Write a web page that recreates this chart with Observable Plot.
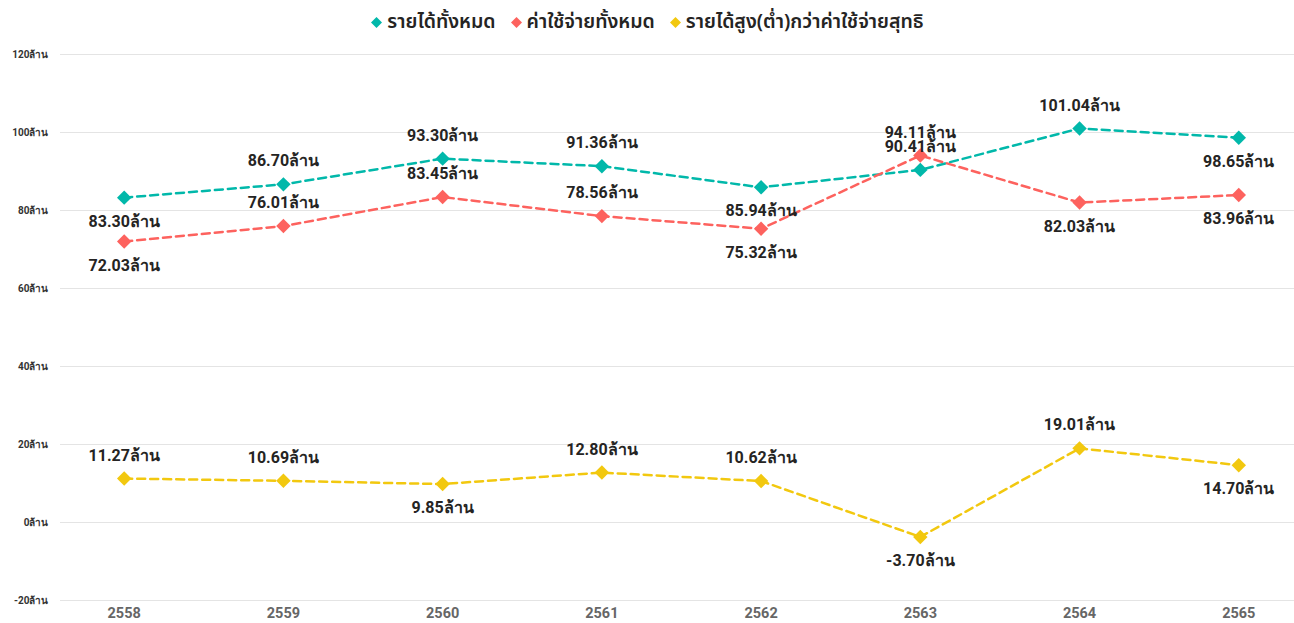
<!DOCTYPE html>
<html><head><meta charset="utf-8">
<script src="https://cdn.jsdelivr.net/npm/d3@7"></script>
<script src="https://cdn.jsdelivr.net/npm/@observablehq/plot@0.6"></script>
<style>
body{margin:0;background:#fff;font-family:"Noto Sans","Noto Sans Thai",Roboto,sans-serif;}
#legend{height:42px;display:flex;justify-content:center;align-items:center;gap:14px;font-size:19.5px;font-weight:600;color:#252423;padding-top:2px;box-sizing:border-box;}
#legend .item{display:flex;align-items:center;gap:4px;}
#legend svg{display:block}
</style>
</head><body>
<div id="legend"></div>
<div id="chart"></div>
<script>
const years = [2558, 2559, 2560, 2561, 2562, 2563, 2564, 2565];
const seriesNames = ["รายได้ทั้งหมด", "ค่าใช้จ่ายทั้งหมด", "รายได้สูง(ต่ำ)กว่าค่าใช้จ่ายสุทธิ"];
const income  = [83.30, 86.70, 93.30, 91.36, 85.94, 90.41, 101.04, 98.65];
const expense = [72.03, 76.01, 83.45, 78.56, 75.32, 94.11, 82.03, 83.96];
const net     = [11.27, 10.69, 9.85, 12.80, 10.62, -3.70, 19.01, 14.70];
const incomeLabelSide  = ["below","above","above","above","below","above","above","below"];
const expenseLabelSide = ["below","above","above","above","below","above","below","below"];
const netLabelSide     = ["above","above","below","above","above","below","above","below"];
const seriesColors = ["#01B8AA", "#FD625E", "#F2C80F"];
const yTicks = [-20, 0, 20, 40, 60, 80, 100, 120];
const unit = "ล้าน";

const seriesValues = [income, expense, net];
const seriesSides = [incomeLabelSide, expenseLabelSide, netLabelSide];
const rows = [];
seriesNames.forEach((name, i) => {
  years.forEach((yr, j) => rows.push({year: yr, value: seriesValues[i][j], series: name, side: seriesSides[i][j]}));
});

// legend
const legend = document.getElementById("legend");
seriesNames.forEach((name, i) => {
  const it = document.createElement("div");
  it.className = "item";
  it.innerHTML = `<svg width="13" height="13" viewBox="-6.5 -6.5 13 13"><path d="M0,-5.5L5.5,0L0,5.5L-5.5,0Z" fill="${seriesColors[i]}"/></svg><span>${name}</span>`;
  legend.appendChild(it);
});

const labelFont = "\"Liberation Sans Narrow\", Roboto, \"Noto Sans\", sans-serif";
const fmt = d => d.value.toFixed(2) + unit;

const chart = Plot.plot({
  width: 1294,
  height: 581,
  marginLeft: 60,
  marginRight: 0,
  marginTop: 12,
  marginBottom: 23,
  style: {fontFamily: "Roboto, \"Noto Sans\", sans-serif", background: "transparent"},
  x: {type: "linear", domain: [2557.6, 2565.35]},
  y: {domain: [-20, 120]},
  color: {domain: seriesNames, range: seriesColors},
  marks: [
    Plot.ruleY(yTicks, {stroke: "#e4e4e4", strokeWidth: 1}),
    Plot.axisY({ticks: yTicks, tickSize: 0, tickPadding: 12, tickFormat: d => d + unit, fontSize: 10, fontWeight: "bold", fill: "#333", label: null}),
    Plot.axisX({ticks: years, tickSize: 0, tickPadding: 7, tickFormat: d => String(d), fontSize: 14.5, fontWeight: "bold", fill: "#666", label: null}),
    Plot.line(rows, {x: "year", y: "value", z: "series", stroke: "series", strokeWidth: 2.5, strokeDasharray: "8,5"}),
    Plot.dot(rows, {x: "year", y: "value", fill: "series", symbol: "diamond2", r: 6.5}),
    Plot.text(rows.filter(d => d.side === "above"), {x: "year", y: "value", text: fmt, dy: -23, fontSize: 16, fontWeight: "bold", fill: "#252423", fontFamily: labelFont}),
    Plot.text(rows.filter(d => d.side === "below"), {x: "year", y: "value", text: fmt, dy: 24, fontSize: 16, fontWeight: "bold", fill: "#252423", fontFamily: labelFont})
  ]
});
document.getElementById("chart").appendChild(chart);
</script>
</body></html>
